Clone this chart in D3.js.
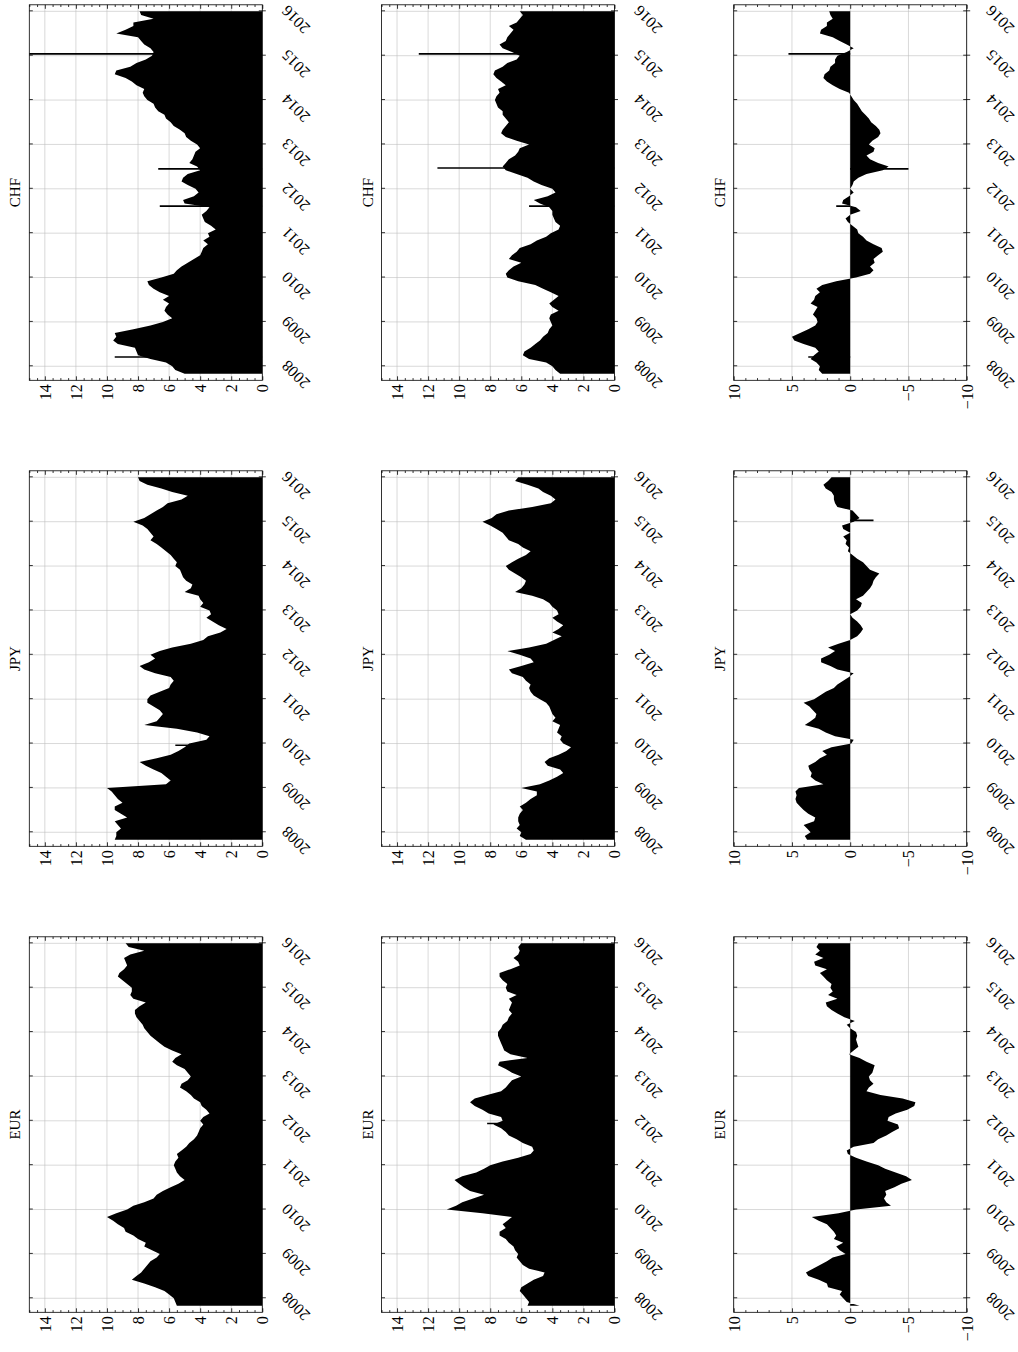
<!DOCTYPE html>
<html>
<head>
<meta charset="utf-8">
<script src="https://cdn.jsdelivr.net/npm/d3@7"></script>
<style>
    body { margin: 0; background: #fff; }
    svg { display: block; }
    text { font-family: "Liberation Serif", "Times New Roman", serif; font-size: 16px; fill: #000; }
    .title { font-size: 15px; }
    .frame { fill: none; stroke: #000; stroke-width: 0.8; }
    .grid line { stroke: #c0c0c0; stroke-width: 0.6; }
    .axis line { stroke: #000; stroke-width: 0.8; }
</style>
</head>
<body>
<div id="chart"></div>
<script>
// ---- data --------------------------------------------------------------
var currencies = ["EUR", "JPY", "CHF"];
var yearTicks = [2008, 2009, 2010, 2011, 2012, 2013, 2014, 2015, 2016];
var levelTicks = [0, 2, 4, 6, 8, 10, 12, 14];
var spreadTicks = [-10, -5, 0, 5, 10];

// monthly observations, the first one is Nov 2007, the last Jan 2016
var firstMonth = 2007 + 10 / 12;

// top row
var eurTop = [5.5, 5.6,
    5.7, 6.0, 6.3, 6.9, 7.6, 8.4, 8.1, 7.8, 7.6, 7.4, 7.2, 6.8,
    6.6, 7.1, 7.6, 7.5, 8.0, 8.3, 8.8, 8.9, 9.3, 9.6, 10.0, 9.4,
    8.7, 8.3, 7.6, 7.0, 6.8, 6.4, 5.9, 5.4, 5.0, 5.3, 5.5, 5.6,
    5.7, 5.6, 5.4, 5.5, 5.2, 4.9, 4.7, 4.4, 4.2, 4.1, 4.0, 3.8,
    4.0, 3.8, 3.4, 3.6, 3.9, 4.0, 4.4, 4.6, 4.9, 5.3, 5.2, 4.8,
    4.6, 4.8, 5.0, 5.5, 5.8, 5.6, 5.2, 5.8, 6.3, 6.6, 6.9, 7.2,
    7.4, 7.6, 7.7, 7.9, 8.1, 8.2, 8.2, 7.9, 7.5, 8.3, 8.5, 8.4,
    8.4, 8.7, 9.0, 9.3, 9.2, 8.9, 8.7, 8.8, 8.9, 8.5, 7.6, 8.6,
    8.8];
var jpyTop = [9.5, 9.4,
    9.4, 9.1, 9.3, 9.5, 8.7, 9.1, 9.5, 9.5, 9.0, 9.3, 9.5, 9.7,
    10.0, 6.2, 5.9, 6.2, 6.5, 7.0, 7.5, 7.9, 6.8, 5.9, 5.4, 5.0,
    4.7, 3.6, 3.4, 4.2, 5.5, 7.6, 6.8, 6.6, 6.4, 6.6, 7.0, 7.4,
    7.4, 7.2, 6.6, 6.0, 5.9, 5.7, 5.9, 6.9, 7.6, 7.9, 7.3, 6.9,
    7.2, 6.6, 5.8, 4.6, 3.8, 3.5, 2.7, 2.3, 2.8, 3.2, 3.6, 3.3,
    3.4, 4.0, 3.8, 4.0, 4.1, 5.0, 4.6, 4.5, 4.9, 5.1, 5.2, 5.3,
    5.6, 5.5, 5.7, 5.9, 6.2, 6.5, 6.8, 7.2, 7.0, 7.2, 7.4, 7.7,
    8.3, 7.6, 7.2, 6.8, 6.4, 6.1, 5.2, 4.8, 5.8, 6.5, 7.4, 7.9,
    8.0];
var chfTop = [5.0, 5.6,
    5.8, 6.2, 7.2, 8.0, 8.1, 8.2, 9.3, 9.6, 9.4, 9.5, 8.3, 7.2,
    6.4, 5.8, 6.1, 6.3, 6.2, 6.0, 6.4, 6.0, 6.6, 7.0, 7.3, 7.4,
    6.5, 5.7, 5.5, 5.2, 4.8, 4.4, 4.0, 3.9, 3.8, 3.5, 3.8, 3.4,
    3.5, 3.0, 3.3, 3.7, 3.8, 3.9, 3.6, 3.4, 5.0, 5.1, 4.4, 4.1,
    4.3, 4.8, 5.2, 5.1, 4.8, 4.0, 4.2, 4.7, 4.5, 4.4, 4.3, 4.0,
    4.2, 4.6, 4.9, 5.0, 5.3, 5.7, 5.9, 6.2, 6.3, 6.7, 6.9, 7.0,
    7.4, 7.6, 7.7, 7.6, 8.1, 8.4, 8.8, 9.5, 9.4, 8.5, 8.1, 7.5,
    7.1, 7.0, 7.2, 7.6, 7.8, 8.0, 9.4, 8.8, 8.3, 8.3, 7.0, 7.8,
    7.9];

// middle row
var eurMid = [5.6, 5.5,
    5.7, 5.9, 6.1, 6.0, 5.6, 5.2, 4.6, 4.5, 5.5, 5.9, 6.1, 6.3,
    6.2, 6.4, 6.5, 6.8, 7.0, 7.4, 7.4, 7.0, 7.2, 6.9, 6.6, 8.5,
    10.8, 10.2, 9.8, 9.1, 8.4, 9.3, 9.7, 10.0, 10.3, 9.8, 8.9, 8.4,
    8.0, 7.2, 6.2, 5.4, 5.2, 5.3, 5.9, 6.3, 6.8, 7.0, 7.3, 7.8,
    7.2, 7.3, 8.1, 8.5, 9.0, 9.3, 9.0, 8.2, 7.3, 7.0, 6.8, 6.6,
    6.0, 6.6, 7.0, 7.5, 7.4, 5.6, 6.7, 7.1, 7.2, 7.3, 7.4, 7.5,
    7.5, 7.3, 7.2, 6.9, 6.8, 6.6, 6.8, 6.7, 6.6, 6.8, 6.3, 6.9,
    7.0, 6.9, 7.2, 7.4, 7.4, 6.7, 6.1, 6.2, 6.5, 6.2, 6.1, 6.2,
    6.0];
var jpyMid = [5.7, 6.1,
    6.0, 6.3, 6.1, 6.2, 6.2, 6.1, 5.9, 6.1, 5.7, 5.4, 5.0, 5.0,
    6.0, 4.8, 4.2, 3.7, 3.3, 3.5, 4.3, 4.5, 4.2, 3.6, 3.1, 2.8,
    3.3, 3.5, 3.4, 3.7, 3.6, 3.5, 4.0, 3.8, 4.0, 4.1, 4.2, 4.4,
    4.8, 5.2, 5.4, 5.5, 5.4, 5.7, 5.9, 6.6, 6.8, 6.0, 5.2, 5.4,
    6.1, 6.9, 5.5, 4.4, 3.9, 3.4, 4.0, 3.6, 3.3, 3.7, 4.0, 3.6,
    3.7, 4.0, 4.2, 4.6, 5.3, 6.4, 6.0, 5.8, 5.7, 6.0, 6.4, 6.8,
    7.0, 6.6, 6.2, 5.7, 5.4, 5.9, 6.2, 6.8, 7.0, 7.2, 7.6, 8.0,
    8.5, 7.9, 7.6, 6.8, 5.3, 4.1, 3.8, 4.1, 4.6, 4.9, 5.6, 6.4,
    6.2];
var chfMid = [3.5, 3.8,
    4.0, 4.4, 5.5, 5.9, 5.8, 5.4, 5.1, 4.8, 4.6, 4.3, 4.2, 4.0,
    4.1, 4.2, 4.1, 3.6, 4.0, 4.2, 3.9, 3.6, 4.1, 4.6, 5.1, 6.2,
    6.9, 7.0, 6.8, 6.5, 6.0, 6.8, 6.6, 6.3, 6.1, 5.4, 5.0, 4.4,
    4.1, 3.6, 3.5, 3.8, 3.9, 4.0, 4.0, 4.2, 4.8, 5.2, 4.3, 3.8,
    4.0, 4.7, 5.2, 5.6, 6.3, 7.0, 7.2, 7.0, 6.8, 6.4, 6.2, 6.1,
    5.5, 6.3, 7.0, 7.3, 7.2, 7.0, 6.8, 7.0, 7.2, 7.2, 7.5, 7.6,
    7.7, 7.6, 7.4, 7.5, 7.0, 7.3, 7.6, 7.8, 7.7, 7.2, 6.9, 6.3,
    6.1, 6.6, 7.2, 7.4, 7.0, 6.9, 6.7, 6.5, 6.8, 6.3, 6.1, 5.9,
    6.1];

// bottom row (spread)
var eurLow = [-0.8, 0.3,
    0.6, 0.9, 0.7, 1.9, 2.0, 2.7, 3.6, 3.8, 3.2, 2.6, 2.0, 1.5,
    0.4, 0.9, 1.2, 0.6, 1.4, 1.2, 1.4, 1.7, 2.0, 2.7, 3.3, 1.0,
    -0.5, -3.5, -3.1, -2.9, -3.1, -3.0, -3.8, -4.4, -5.3, -4.8, -3.9, -3.0,
    -2.4, -1.4, -0.5, 0.2, 0.3, -0.3, -2.0, -2.4, -3.1, -3.6, -4.2, -4.1,
    -3.2, -3.3, -3.9, -4.9, -5.5, -5.6, -4.5, -2.6, -1.4, -1.6, -2.0, -1.7,
    -1.6, -1.9, -2.0, -2.1, -1.4, -0.8, 0.1, -0.3, -0.7, -0.6, -0.5, -0.6,
    -0.5, 0.0, 0.3, -0.4, 0.5, 1.1, 1.6, 2.0, 2.1, 1.1, 1.9, 1.5,
    1.7, 1.6, 2.0, 2.3, 2.6, 2.0, 3.0, 3.1, 2.3, 3.0, 2.6, 2.9,
    2.7];
var jpyLow = [3.7, 3.9,
    3.4, 3.7, 4.0, 3.1, 3.0, 3.6, 4.0, 4.3, 4.6, 4.7, 4.6, 4.7,
    4.4, 2.3, 3.0, 3.4, 3.3, 3.5, 3.6, 3.0, 2.6, 2.0, 2.4, 1.6,
    -0.1, -0.3, 1.3, 2.1, 2.7, 3.9, 3.4, 3.0, 2.9, 3.2, 3.5, 4.0,
    3.1, 2.6, 2.1, 1.4, 1.1, 0.6, 0.1, -0.3, 1.1, 1.7, 2.5, 2.5,
    1.8, 1.3, 1.9, 1.0, 0.0, -0.6, -0.9, -1.1, -0.9, -0.6, -0.2, 0.0,
    -0.6, -0.9, -1.0, -0.5, -1.1, -1.4, -1.7, -1.9, -2.0, -2.2, -2.5, -1.7,
    -1.4, -1.1, -0.6, -0.2, 0.2, 0.1, 0.4, 0.3, 0.6, 0.0, 0.6, 0.7,
    -0.3, -0.8, -0.5, -0.2, 1.1, 1.3, 1.4, 1.4, 1.6, 2.1, 2.3, 1.9,
    1.6];
var chfLow = [2.4, 2.7,
    2.6, 2.9, 3.4, 3.1, 2.7, 3.0, 4.0, 4.8, 5.0, 4.3, 3.6, 3.0,
    2.8, 2.9, 3.2, 3.0, 2.8, 3.4, 3.1, 3.0, 2.6, 2.9, 2.4, 1.2,
    -0.5, -1.7, -2.0, -1.7, -2.1, -2.0, -2.4, -2.8, -2.7, -2.0, -1.4, -1.1,
    -0.7, -0.6, -0.2, 0.2, 0.4, 0.0, -0.9, -0.5, 0.7, 0.6, 0.1, -0.3,
    0.0, -0.2, -0.3, -0.7, -1.4, -2.8, -3.3, -2.4, -1.7, -1.4, -2.0, -2.1,
    -1.6, -1.9, -2.4, -2.6, -2.5, -2.2, -1.8, -1.6, -1.3, -1.0, -0.8, -0.6,
    -0.3, -0.1, 0.1, 0.9, 1.5, 2.0, 2.3, 2.2, 1.8, 1.7, 1.3, 1.3,
    1.1, 0.3, -0.3, 0.3, 0.9, 1.5, 2.6, 2.5, 2.0, 2.0, 1.5, 1.7,
    1.8];

// single-day jumps, [year, value]
var jpyTopSpikes = [[2009.96, 5.6]];
var chfTopSpikes = [[2008.21, 9.5], [2011.61, 6.6], [2012.45, 6.7], [2015.04, 17.9]];
var eurMidSpikes = [[2011.94, 8.2]];
var chfMidSpikes = [[2011.61, 5.5], [2012.47, 11.4], [2015.04, 12.6]];
var jpyLowSpikes = [[2015.03, -2.0]];
var chfLowSpikes = [[2008.21, 3.6], [2011.61, 1.2], [2012.45, -5.0], [2015.04, 5.3]];

var rows = [
    { domain: [0, 15], ticks: levelTicks, minorStep: 0.5,
      series: { EUR: eurTop, JPY: jpyTop, CHF: chfTop },
      spikes: { EUR: [], JPY: jpyTopSpikes, CHF: chfTopSpikes } },
    { domain: [0, 15], ticks: levelTicks, minorStep: 0.5,
      series: { EUR: eurMid, JPY: jpyMid, CHF: chfMid },
      spikes: { EUR: eurMidSpikes, JPY: [], CHF: chfMidSpikes } },
    { domain: [-10, 10], ticks: spreadTicks, minorStep: 1,
      series: { EUR: eurLow, JPY: jpyLow, CHF: chfLow },
      spikes: { EUR: [], JPY: jpyLowSpikes, CHF: chfLowSpikes } }
];

// ---- layout (landscape, then turned a quarter turn onto the page) -------
var panelW = 375.5, panelH = 233;
var colLeft = [39.7, 505.7, 971.7];
var rowTop = [29.3, 381.5, 733.7];
var xDomain = [2007.684, 2016.147];

var svg = d3.select("#chart")
            .append("svg")
            .attr("width", 1018)
            .attr("height", 1352);

var page = svg.append("g")
              .attr("transform", "translate(0,1352) rotate(-90)");

function fmt(d) {
    return d < 0 ? "\u2212" + Math.abs(d) : String(d);
}

function drawPanel(row, r, name, c) {
    var values = row.series[name];
    var spikes = row.spikes[name];
    var clipId = "clip-" + r + "-" + c;

    var x = d3.scaleLinear().domain(xDomain).range([0, panelW]);
    var y = d3.scaleLinear().domain(row.domain).range([panelH, 0]);

    var minor = d3.range(row.domain[0], row.domain[1] + 1e-9, row.minorStep)
                  .filter(function(v) { return row.ticks.indexOf(v) < 0; });

    var g = page.append("g")
                .attr("transform", "translate(" + colLeft[c] + "," + rowTop[r] + ")");

    g.append("clipPath")
        .attr("id", clipId)
        .append("rect")
        .attr("width", panelW)
        .attr("height", panelH);

    // grid
    var grid = g.append("g").attr("class", "grid");
    grid.selectAll("line.gx")
        .data(yearTicks)
        .enter()
        .append("line")
        .attr("class", "gx")
        .attr("x1", function(d) { return x(d); })
        .attr("x2", function(d) { return x(d); })
        .attr("y1", 0)
        .attr("y2", panelH);
    grid.selectAll("line.gy")
        .data(row.ticks)
        .enter()
        .append("line")
        .attr("class", "gy")
        .attr("x1", 0)
        .attr("x2", panelW)
        .attr("y1", function(d) { return y(d); })
        .attr("y2", function(d) { return y(d); });

    // filled series
    var points = values.map(function(v, i) {
        return { t: firstMonth + i / 12, v: v };
    });
    var area = d3.area()
                 .x(function(d) { return x(d.t); })
                 .y0(y(0))
                 .y1(function(d) { return y(d.v); });

    g.append("path")
        .datum(points)
        .attr("d", area)
        .attr("fill", "#000")
        .attr("clip-path", "url(#" + clipId + ")");

    g.append("g")
        .attr("clip-path", "url(#" + clipId + ")")
        .selectAll("line")
        .data(spikes)
        .enter()
        .append("line")
        .attr("x1", function(d) { return x(d[0]); })
        .attr("x2", function(d) { return x(d[0]); })
        .attr("y1", y(0))
        .attr("y2", function(d) { return y(d[1]); })
        .attr("stroke", "#000")
        .attr("stroke-width", 1.6);

    g.append("rect")
        .attr("class", "frame")
        .attr("width", panelW)
        .attr("height", panelH);

    // year axis: ticks cross the frame, labels turned 45 degrees
    var bottom = g.append("g")
                  .attr("class", "axis")
                  .attr("transform", "translate(0," + panelH + ")")
                  .call(d3.axisBottom(x).tickValues(yearTicks).tickSize(3.5).tickFormat(d3.format("d")));
    bottom.select(".domain").remove();
    bottom.selectAll(".tick line").attr("y1", -3.5);
    bottom.selectAll(".tick text")
        .attr("x", null)
        .attr("y", null)
        .attr("dy", null)
        .attr("text-anchor", "end")
        .attr("transform", "translate(6.5,26) rotate(-45)");

    var top = g.append("g")
               .attr("class", "axis")
               .call(d3.axisTop(x).tickValues(yearTicks).tickSize(-3.5).tickFormat(""));
    top.select(".domain").remove();

    // value axis, ticks inside
    var left = g.append("g")
                .attr("class", "axis")
                .call(d3.axisLeft(y).tickValues(row.ticks).tickSize(-4).tickPadding(4).tickFormat(fmt));
    left.select(".domain").remove();
    left.selectAll(".tick text").attr("dy", "0.34em");

    var leftMinor = g.append("g")
                     .attr("class", "axis")
                     .call(d3.axisLeft(y).tickValues(minor).tickSize(-2.2).tickFormat(""));
    leftMinor.select(".domain").remove();

    var right = g.append("g")
                 .attr("class", "axis")
                 .attr("transform", "translate(" + panelW + ",0)")
                 .call(d3.axisRight(y).tickValues(row.ticks).tickSize(-4).tickFormat(""));
    right.select(".domain").remove();

    var rightMinor = g.append("g")
                      .attr("class", "axis")
                      .attr("transform", "translate(" + panelW + ",0)")
                      .call(d3.axisRight(y).tickValues(minor).tickSize(-2.2).tickFormat(""));
    rightMinor.select(".domain").remove();

    g.append("text")
        .attr("class", "title")
        .attr("x", panelW / 2)
        .attr("y", -9)
        .attr("text-anchor", "middle")
        .text(name);
}

rows.forEach(function(row, r) {
    currencies.forEach(function(name, c) {
        drawPanel(row, r, name, c);
    });
});
</script>
</body>
</html>
